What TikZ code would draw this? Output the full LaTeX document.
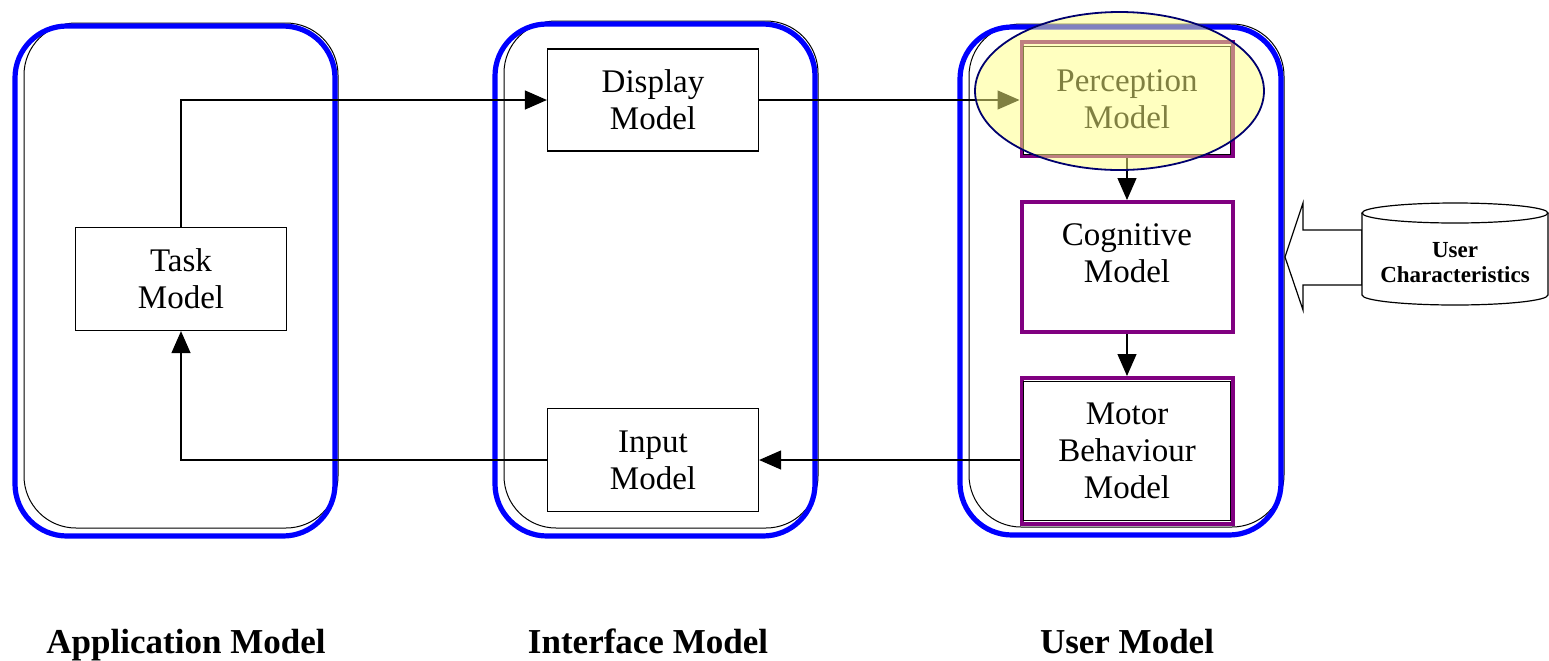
\documentclass[tikz,border=0pt]{standalone}
\usepackage{fontspec}
\setmainfont{Liberation Serif}
\usetikzlibrary{arrows.meta}
\definecolor{purplebox}{RGB}{128,0,128}
\definecolor{navyline}{RGB}{0,0,110}
\definecolor{hiyellow}{RGB}{255,255,130}

\begin{document}
\begin{tikzpicture}[x=0.5pt, y=-0.5pt,
    model/.style={draw, line width=0.6pt, align=center, minimum width=105.5pt, font=\fontsize{16.5}{18.5}\selectfont},
    usermodel/.style={model, draw=purplebox, line width=2pt},
    container/.style={draw=blue, line width=2.6pt, rounded corners=26pt},
    shadowline/.style={draw, line width=0.5pt, rounded corners=26pt},
    arr/.style={line width=0.6pt, -{Triangle[length=11pt, width=9.5pt]}},
    caption/.style={font=\fontsize{17.5}{20}\selectfont\bfseries, anchor=base}]
    \useasboundingbox (0,0) rectangle (1549,660);
    % the three model frames
    \foreach \l/\r/\t/\b in {15/335/26/536, 495/815/24/536, 960/1281/27/535} {
        \draw[shadowline] (\l+9,\t-3) rectangle (\r+3,\b-8);
        \draw[container] (\l,\t) rectangle (\r,\b);
    }
    % boxes
    \node [model, minimum height=51.5pt] (task) at (181,279) {Task\\Model};
    \node [model, minimum height=51pt] (display) at (653,100) {Display\\Model};
    \node [model, minimum height=51.5pt] (input) at (653,460) {Input\\Model};
    \node [usermodel, minimum height=57pt] (perception) at (1127,99) {Perception\\Model};
    \node [usermodel, minimum height=65pt] (cognitive) at (1127,267) {};
    \node [font=\fontsize{16.5}{18.5}\selectfont, align=center] (cogtext) at (1127,253) {Cognitive\\Model};
    \node [usermodel, minimum height=73pt] (motor) at (1127,451) {Motor\\Behaviour\\Model};
    \draw[line width=0.5pt] ([shift={(4,6)}]perception.north west) rectangle ([shift={(-4,-4)}]perception.south east);
    \draw[line width=0.5pt] ([shift={(4,5)}]motor.north west) rectangle ([shift={(-4,-6)}]motor.south east);
    % connectors
    \draw[arr] (task.north) |- (display.west);
    \draw[arr] (display.east) -- (display.east -| perception.west);
    \draw[arr] (perception) -- (cognitive);
    \draw[arr] (cognitive) -- (motor);
    \draw[arr] (motor.west |- input.east) -- (input.east);
    \draw[arr] (input.west) -| (task.south);
    % highlight
    \draw[draw=navyline, line width=0.9pt, fill=hiyellow, fill opacity=0.5] (1119.5,91) ellipse [x radius=144.5, y radius=79];
    % user characteristics store
    \draw[line width=0.6pt, fill=white] (1285,257) -- (1303,203) -- (1303,230) -- (1362,230) -- (1362,285) -- (1303,285) -- (1303,310) -- cycle;
    \draw[line width=0.6pt, fill=white] (1362,213) -- (1362,295) arc[start angle=180, end angle=360, x radius=46.5pt, y radius=5pt] -- (1548,213);
    \draw[line width=0.6pt] (1455,213) ellipse [x radius=93, y radius=10];
    \node [font=\fontsize{11.5}{12.5}\selectfont\bfseries, align=center] (userchar) at (1455,263) {User\\Characteristics};
    % captions
    \node [caption] (appcap) at (186,653) {Application Model};
    \node [caption] (ifacecap) at (648,653) {Interface Model};
    \node [caption] (usercap) at (1127,653) {User Model};
\end{tikzpicture}
\end{document}
